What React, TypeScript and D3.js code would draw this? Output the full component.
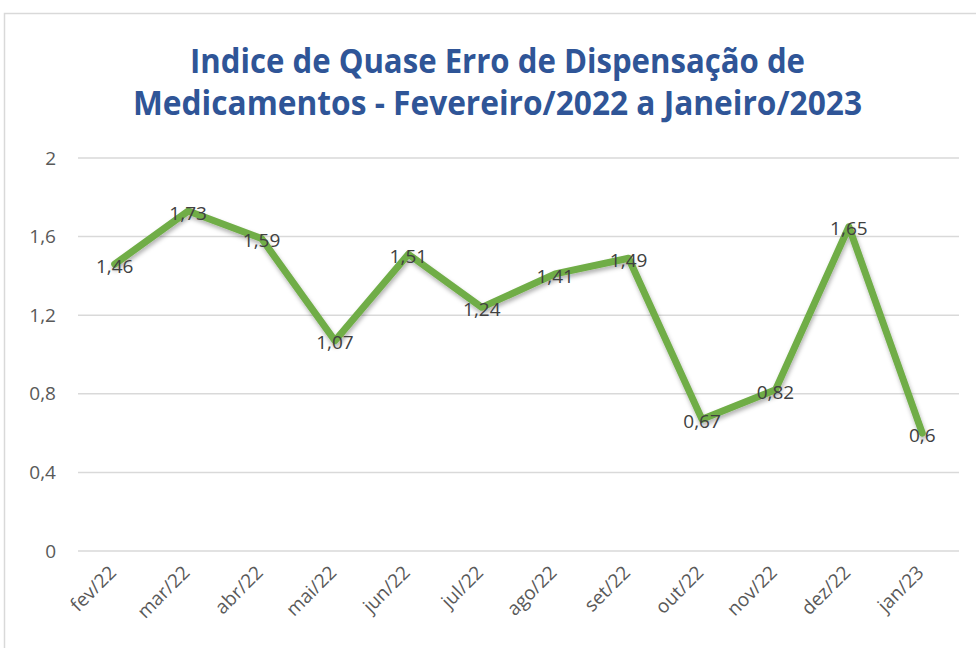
import React from "react";
import * as d3 from "d3";

const categories = ["fev/22","mar/22","abr/22","mai/22","jun/22","jul/22","ago/22","set/22","out/22","nov/22","dez/22","jan/23"];
const values = [1.46,1.73,1.59,1.07,1.51,1.24,1.41,1.49,0.67,0.82,1.65,0.6];
const yTicks = [0,0.4,0.8,1.2,1.6,2];
const titleLines = ["Indice de Quase Erro de Dispensação de","Medicamentos - Fevereiro/2022 a Janeiro/2023"];

const W = 976, H = 648;
const fmt = (v: number) => String(v).replace(".", ",");

export default function App() {
  const x = d3.scaleBand<string>().domain(categories).range([78, 959]);
  const y = d3.scaleLinear().domain([0, 2]).range([551, 158]);
  const line = d3.line<number>()
    .x((_, i) => (x(categories[i]) as number) + x.bandwidth() / 2)
    .y(d => y(d));
  const font = "'Open Sans', 'Noto Sans', sans-serif";
  return (
    <div style={{ position: "fixed", left: 0, top: 0 }}>
      <svg width={W} height={H} style={{ display: "block", background: "#fff" }}>
        <defs>
          <filter id="sh" x="-10%" y="-10%" width="120%" height="130%">
            <feDropShadow dx="1" dy="3" stdDeviation="2" floodColor="#000" floodOpacity="0.3" />
          </filter>
        </defs>
        <rect x={4.5} y={13.5} width={W + 10} height={H + 10} fill="#fff" stroke="#d9d9d9" strokeWidth={1.5} />
        {titleLines.map((t, i) => (
          <text key={i} x={497.5} y={73 + i * 42} textAnchor="middle" fill="#2F5597" fontFamily={font}
            fontWeight="bold" fontSize={34}
            textLength={i === 0 ? 615 : 729} lengthAdjust="spacingAndGlyphs">{t}</text>
        ))}
        {yTicks.map(t => (
          <g key={t}>
            <line x1={78} x2={959} y1={y(t)} y2={y(t)} stroke="#d9d9d9" strokeWidth={1.5} />
            <text x={56} y={y(t)} dy="0.35em" textAnchor="end" fill="#595959" fontFamily={font} fontSize={19}>{fmt(t)}</text>
          </g>
        ))}
        {categories.map(c => {
          const cx = (x(c) as number) + x.bandwidth() / 2;
          return (
            <text key={c} transform={`translate(${cx - 2},${569}) rotate(-45)`} textAnchor="end" dy="0.35em"
              fill="#595959" fontFamily={font} fontSize={19}>{c}</text>
          );
        })}
        <path d={line(values) || ""} fill="none" stroke="#70AD47" strokeWidth={7} strokeLinejoin="round" strokeLinecap="round" filter="url(#sh)" />
        {values.map((v, i) => {
          const cx = (x(categories[i]) as number) + x.bandwidth() / 2;
          return (
            <text key={i} x={cx} y={y(v) + 2} dy="0.35em" textAnchor="middle" fill="#404040" fontFamily={font} fontSize={19}>{fmt(v)}</text>
          );
        })}
      </svg>
    </div>
  );
}
